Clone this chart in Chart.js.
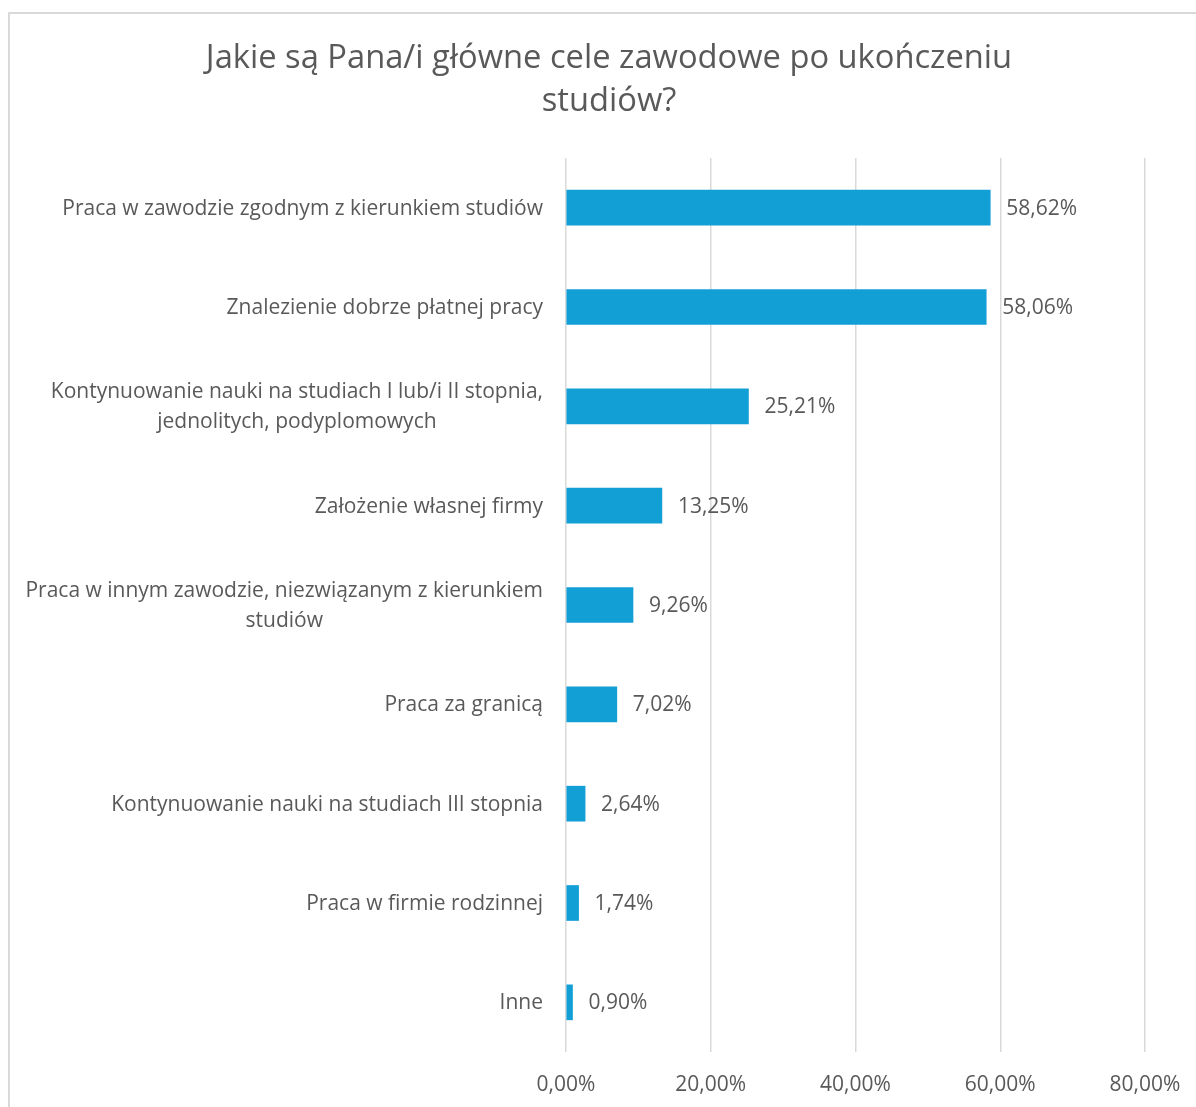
<!DOCTYPE html>
<html lang="pl">
<head>
<meta charset="utf-8">
<title>Cele zawodowe po ukończeniu studiów</title>
<script src="https://cdn.jsdelivr.net/npm/chart.js@4/dist/chart.umd.min.js"></script>
<style>
    html, body {
        margin: 0;
        padding: 0;
        width: 1196px;
        height: 1107px;
        overflow: hidden;
        background: #ffffff;
    }

    .frame {
        position: absolute;
        left: 8px;
        top: 12px;
        width: 1300px;
        height: 1200px;
        border: 2px solid #d9d9d9;
    }

    .chart-box {
        position: absolute;
        left: 0;
        top: 0;
        width: 1196px;
        height: 1107px;
    }
</style>
</head>
<body>
<div class="frame"></div>
<div class="chart-box">
    <canvas id="goals"></canvas>
</div>
<script>
const titleLines = [
    'Jakie są Pana/i główne cele zawodowe po ukończeniu',
    'studiów?',
];

const categories = [
    ['Praca w zawodzie zgodnym z kierunkiem studiów'],
    ['Znalezienie dobrze płatnej pracy'],
    ['Kontynuowanie nauki na studiach I lub/i II stopnia,', 'jednolitych, podyplomowych'],
    ['Założenie własnej firmy'],
    ['Praca w innym zawodzie, niezwiązanym z kierunkiem', 'studiów'],
    ['Praca za granicą'],
    ['Kontynuowanie nauki na studiach III stopnia'],
    ['Praca w firmie rodzinnej'],
    ['Inne'],
];

const shares = [58.62, 58.06, 25.21, 13.25, 9.26, 7.02, 2.64, 1.74, 0.90];

const axisTicks = [0, 20, 40, 60, 80];

const FONT = '"Open Sans", "Segoe UI", sans-serif';
const TEXT_COLOR = '#595959';
const BAR_COLOR = '#129fd6';
const GRID_COLOR = '#d9d9d9';
const LABEL_SIZE = 21;

function formatPercent(value) {
    return value.toFixed(2).replace('.', ',') + '%';
}

// Title, category names (centred multi-line blocks, right-aligned to the axis) and value labels.
const textPlugin = {
    id: 'chartText',
    afterDraw(chart) {
        const { ctx } = chart;
        const yScale = chart.scales.y;
        const meta = chart.getDatasetMeta(0);

        ctx.save();
        ctx.fillStyle = TEXT_COLOR;
        ctx.textBaseline = 'middle';

        ctx.font = '32.7px ' + FONT;
        ctx.textAlign = 'center';
        titleLines.forEach((line, i) => {
            ctx.fillText(line, 609, 59 + i * 43);
        });

        ctx.font = LABEL_SIZE + 'px ' + FONT;
        const labelRight = chart.chartArea.left - 23;
        const lineHeight = 30;
        categories.forEach((lines, index) => {
            const center = yScale.getPixelForTick(index) + 1;
            const widest = Math.max(...lines.map((line) => ctx.measureText(line).width));
            const blockCenter = labelRight - widest / 2;
            lines.forEach((line, i) => {
                const y = center + (i - (lines.length - 1) / 2) * lineHeight;
                ctx.fillText(line, blockCenter, y);
            });
        });

        ctx.textAlign = 'left';
        meta.data.forEach((bar, index) => {
            ctx.fillText(formatPercent(shares[index]), bar.x + 16, bar.y + 1);
        });

        ctx.restore();
    },
};

new Chart(document.getElementById('goals'), {
    type: 'bar',
    data: {
        labels: categories,
        datasets: [{
            data: shares,
            backgroundColor: BAR_COLOR,
            borderWidth: 0,
            barThickness: 35,
        }],
    },
    options: {
        indexAxis: 'y',
        responsive: true,
        maintainAspectRatio: false,
        animation: false,
        layout: {
            padding: {
                top: 158,
                right: 51,
                bottom: 0,
                left: 0,
            },
        },
        plugins: {
            legend: { display: false },
            tooltip: { enabled: false },
            title: { display: false },
        },
        scales: {
            x: {
                min: axisTicks[0],
                max: axisTicks[axisTicks.length - 1],
                afterBuildTicks(scale) {
                    scale.ticks = axisTicks.map((value) => ({ value }));
                },
                afterFit(scale) {
                    // outer tick labels fit inside the layout padding already
                    scale.height = 55;
                    scale.paddingLeft = 0;
                    scale.paddingRight = 0;
                },
                border: { display: false },
                grid: {
                    color: GRID_COLOR,
                    lineWidth: 1.5,
                    drawTicks: false,
                },
                ticks: {
                    padding: 20,
                    color: TEXT_COLOR,
                    font: { family: FONT, size: LABEL_SIZE },
                    callback: (value) => formatPercent(value),
                },
            },
            y: {
                afterFit(scale) {
                    scale.width = 566;
                },
                border: { display: false },
                grid: { display: false, drawTicks: false },
                ticks: { display: false },
            },
        },
    },
    plugins: [textPlugin],
});
</script>
</body>
</html>
